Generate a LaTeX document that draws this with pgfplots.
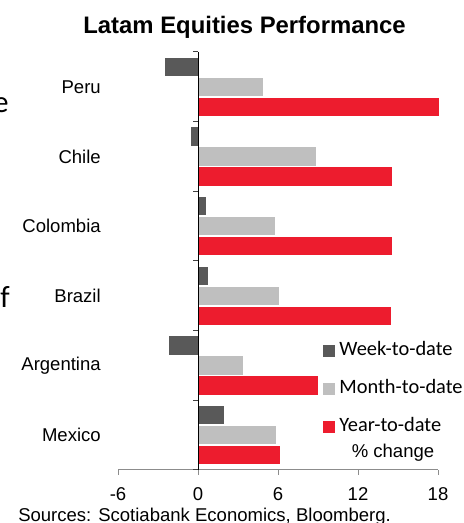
\documentclass[border=0pt]{standalone}
\usepackage{pgfplots}
\pgfplotsset{compat=1.18}
\usepackage{fontspec}
\setmainfont{Liberation Sans}
\newfontfamily\carlito{Carlito}
\definecolor{wk}{HTML}{595959}
\definecolor{mo}{HTML}{BFBFBF}
\definecolor{yr}{HTML}{ED1C2E}
\definecolor{axgray}{HTML}{8C8C8C}
\pgfplotsset{sqlegend/.style={legend image code/.code={\fill[#1] (0pt,-4.125pt) rectangle (8.25pt,4.125pt);}}}
\begin{document}
\begin{tikzpicture}
\useasboundingbox (0,0) rectangle (347.25pt,392.25pt);
\clip (0,0) rectangle (347.25pt,392.25pt);
\begin{axis}[
  at={(88.5pt,39.75pt)}, anchor=south west,
  scale only axis, width=240pt, height=313.5pt,
  xmin=-6, xmax=18, ymin=-0.5, ymax=5.5,
  clip=false,
  xbar, bar width=0.28,
  xtick={-6,0,6,12,18}, ytick={0,1,2,3,4,5},
  yticklabels={Mexico,Argentina,Brazil,Colombia,Chile,Peru},
  axis line style={draw=none},
  xtick pos=left, tick align=outside,
  xtick style={axgray, line width=0.75pt}, major tick length=3.75pt,
  ytick style={draw=none},
  tick label style={font=\fontsize{13.9}{16}\selectfont},
  /pgf/number format/assume math mode=true,
  yticklabel style={anchor=east, inner sep=0pt, xshift=-9pt},
  xticklabel style={anchor=north, inner sep=0pt, yshift=-9pt},
  legend style={at={(axis description cs:0.6397,0.3055)}, anchor=north west,
    draw=none, fill=none, inner sep=0pt, outer sep=0pt,
    font=\carlito\fontsize{15.3}{18}\selectfont, row sep=15.5pt,
    nodes={inner sep=0pt, text height=10pt, text depth=3pt},
    /tikz/every odd column/.append style={column sep=3.5pt}},
  legend cell align=left,
]
\addplot[fill=wk, draw=white, line width=0.75pt, bar shift=0.287, sqlegend=wk]
  coordinates {(2.0,0) (-2.2,1) (0.8,2) (0.6,3) (-0.55,4) (-2.5,5)};
\addlegendentry{Week-to-date}
\addplot[fill=mo, draw=white, line width=0.75pt, bar shift=0, sqlegend=mo]
  coordinates {(5.9,0) (3.4,1) (6.1,2) (5.8,3) (8.9,4) (4.9,5)};
\addlegendentry{Month-to-date}
\addplot[fill=yr, draw=white, line width=0.75pt, bar shift=-0.287, sqlegend=yr]
  coordinates {(6.2,0) (9.0,1) (14.5,2) (14.6,3) (14.6,4) (18.1,5)};
\addlegendentry{Year-to-date}
\draw[axgray, line width=0.75pt] (axis cs:-6,-0.5) -- (axis cs:18,-0.5);
\draw[black, line width=0.75pt] (axis cs:0,-0.5) -- (axis cs:0,5.5);
\pgfplotsinvokeforeach{-0.5,0.5,1.5,2.5,3.5,4.5,5.5}{
  \draw[black!75, line width=0.75pt] ([xshift=-3.75pt]axis cs:0,#1) -- (axis cs:0,#1);
}
\end{axis}
\node[anchor=base, inner sep=0pt, font=\bfseries\fontsize{17.9}{20}\selectfont] at (183.4pt,367.1pt) {Latam Equities Performance};
\node[anchor=base, inner sep=0pt, font=\fontsize{13.9}{16}\selectfont] at (294.75pt,48.75pt) {\% change};
\node[anchor=base west, inner sep=0pt, font=\fontsize{13.9}{16}\selectfont] at (13.5pt,1.1pt) {Sources: Scotiabank Economics, Bloomberg.};
\node[anchor=base east, inner sep=0pt, font=\carlito\fontsize{23}{26}\selectfont] at (6.75pt,307.5pt) {e};
\node[anchor=base east, inner sep=0pt, font=\carlito\fontsize{23}{26}\selectfont] at (7.5pt,161.25pt) {of};
\end{tikzpicture}
\end{document}
